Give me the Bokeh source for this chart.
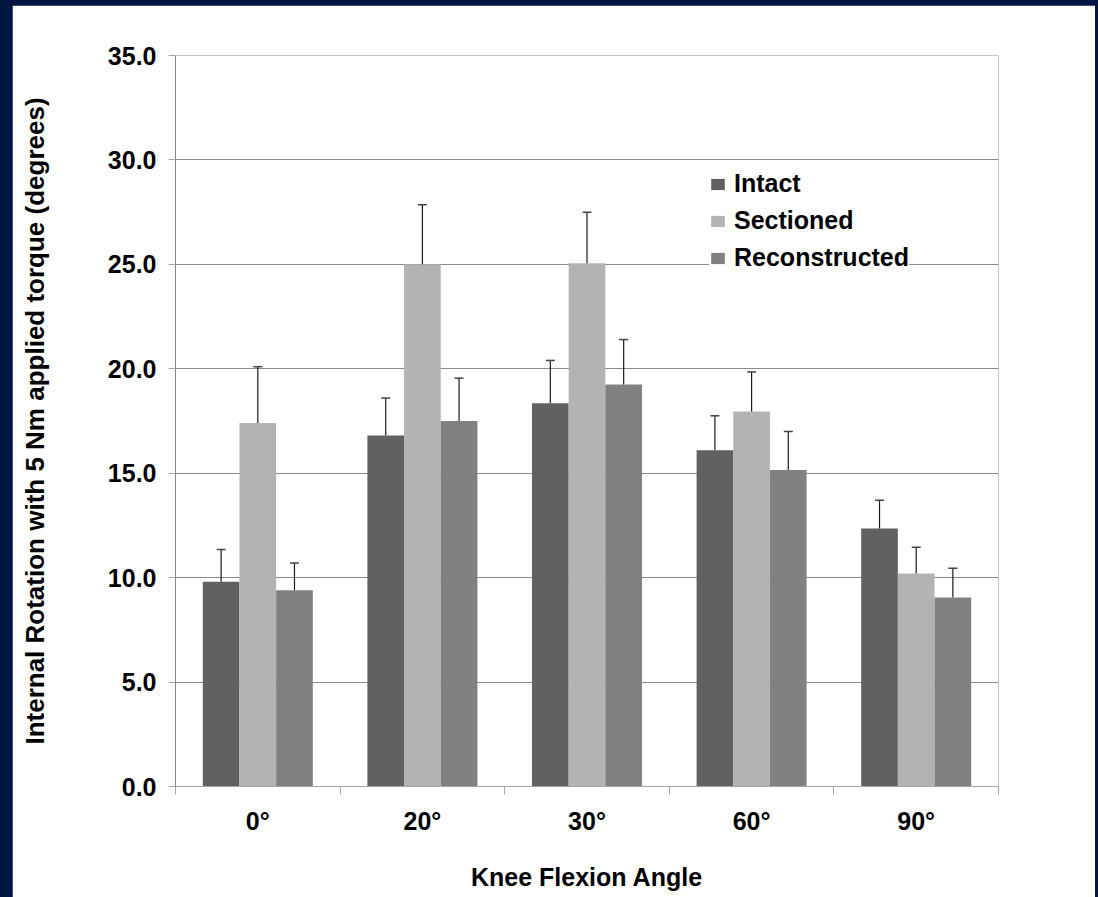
from bokeh.plotting import figure
from bokeh.models import FixedTicker, NumeralTickFormatter, Whisker, TeeHead, ColumnDataSource, Legend, LegendItem, Range1d
from bokeh.layouts import column
from bokeh.embed import file_html
from bokeh.resources import INLINE

categories = ["0°", "20°", "30°", "60°", "90°"]
series_names = ["Intact", "Sectioned", "Reconstructed"]
intact = [9.8, 16.8, 18.35, 16.1, 12.35]
sectioned = [17.4, 25.0, 25.05, 17.95, 10.2]
reconstructed = [9.4, 17.5, 19.25, 15.15, 9.05]
intact_err = [1.55, 1.8, 2.05, 1.65, 1.35]
sectioned_err = [2.7, 2.85, 2.45, 1.9, 1.25]
reconstructed_err = [1.3, 2.05, 2.15, 1.85, 1.4]
y_ticks = [0, 5, 10, 15, 20, 25, 30, 35]

colors = ["#616161", "#b3b3b3", "#818181"]
FONT = "Liberation Sans"
FS = "25px"

p = figure(width=1083, height=892, output_backend="svg", toolbar_location=None,
           x_range=Range1d(0, len(categories)), y_range=Range1d(0, 35),
           min_border_left=163, min_border_right=97, min_border_top=50, min_border_bottom=111,
           margin=(5, 3, 0, 12))
p.background_fill_color = "white"
p.border_fill_color = "white"
p.outline_line_color = None

bw = 0.2228
offsets = [-bw, 0.0, bw]
all_vals = [intact, sectioned, reconstructed]
all_errs = [intact_err, sectioned_err, reconstructed_err]
items = []
for k in range(3):
    xs = [i + 0.5 + offsets[k] for i in range(len(categories))]
    src = ColumnDataSource(dict(x=xs, top=all_vals[k],
                                upper=[v + e for v, e in zip(all_vals[k], all_errs[k])]))
    r = p.vbar(x="x", top="top", bottom=0, width=bw, source=src,
               fill_color=colors[k], line_color=None)
    items.append(LegendItem(label=series_names[k], renderers=[r]))
    w = Whisker(base="x", lower="top", upper="upper", source=src, dimension="height",
                line_color="#1a1a1a", line_width=1.2,
                upper_head=TeeHead(size=9, line_color="#444444", line_width=1.5),
                lower_head=None, level="annotation")
    p.add_layout(w)

# axes
p.xaxis.ticker = FixedTicker(ticks=[i + 0.5 for i in range(len(categories))],
                             minor_ticks=list(range(len(categories) + 1)))
p.xaxis.major_label_overrides = {i + 0.5: c for i, c in enumerate(categories)}
p.xaxis.major_tick_out = 0
p.xaxis.major_tick_in = 0
p.xaxis.minor_tick_out = 8
p.xaxis.minor_tick_in = 0
p.xaxis.minor_tick_line_color = "#a6a6a6"
p.xaxis.axis_line_color = "#a6a6a6"
p.xaxis.major_label_standoff = 12
p.xaxis.axis_label = "Knee Flexion Angle"
p.xaxis.axis_label_standoff = 25

p.yaxis.ticker = FixedTicker(ticks=y_ticks, minor_ticks=[])
p.yaxis.formatter = NumeralTickFormatter(format="0.0")
p.yaxis.major_tick_out = 7
p.yaxis.major_tick_in = 0
p.yaxis.major_tick_line_color = "#a6a6a6"
p.yaxis.axis_line_color = "#868686"
p.yaxis.major_label_standoff = 12
p.yaxis.axis_label = "Internal Rotation with 5 Nm applied torque (degrees)"
p.yaxis.axis_label_standoff = 55

for ax in [p.xaxis[0], p.yaxis[0]]:
    ax.major_label_text_font = FONT
    ax.major_label_text_font_style = "bold"
    ax.major_label_text_font_size = FS
    ax.major_label_text_color = "black"
    ax.axis_label_text_font = FONT
    ax.axis_label_text_font_style = "bold"
    ax.axis_label_text_font_size = FS
    ax.axis_label_text_color = "black"
p.yaxis.axis_label_text_font_size = "26px"

p.xgrid.grid_line_color = None
p.ygrid.grid_line_color = "#8a8a8a"
p.ygrid.grid_line_width = 1

legend = Legend(items=items, location=(534, 514), orientation="vertical",
                label_text_font=FONT, label_text_font_style="bold", label_text_font_size=FS,
                label_text_color="black", glyph_width=17, glyph_height=14,
                label_standoff=8, spacing=8, padding=6, margin=0,
                border_line_color=None, background_fill_color="white", background_fill_alpha=1.0)
p.add_layout(legend, "center")

layout = column(p, styles={"background-color": "#001540"}, width=1098, height=897)

open("out.html", "w").write(file_html(layout, INLINE))
